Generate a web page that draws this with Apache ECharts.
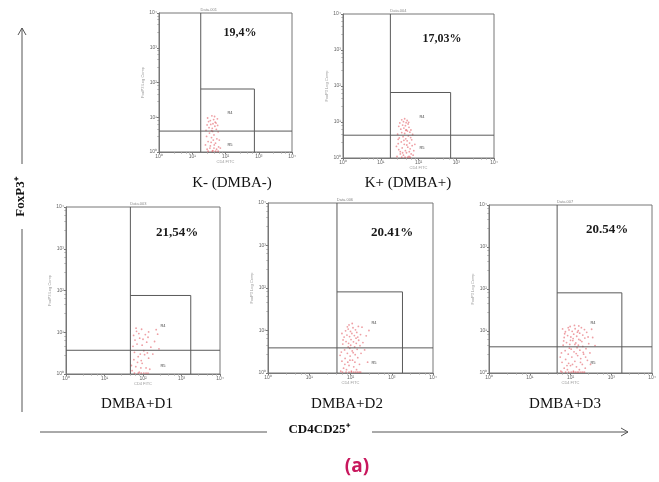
<!DOCTYPE html>
<html>
<head>
<meta charset="utf-8">
<script src="https://cdn.jsdelivr.net/npm/echarts@6/dist/echarts.min.js"></script>
<style>html,body{margin:0;padding:0;background:#fff}#c{width:659px;height:482px}</style>
</head>
<body>
<div id="c"></div>
<script>
// ---- data ----
var panelNames = ['K- (DMBA-)', 'K+ (DMBA+)', 'DMBA+D1', 'DMBA+D2', 'DMBA+D3'];
var percentLabels = ['19,4%', '17,03%', '21,54%', '20.41%', '20.54%'];
var dataTitles = ['Data.001', 'Data.004', 'Data.003', 'Data.006', 'Data.007'];
var tickLabels = ['10\u2070', '10\u00b9', '10\u00b2', '10\u00b3', '10\u2074'];
var gateX = [18, 18, 47, 47, 47];
var quadY = [4.0, 4.3, 3.7, 3.9, 4.2];
var gateTop = [65, 66, 76, 81, 81];
var gateRight = [740, 710, 1740, 1820, 1820];

var points1 = [[28,1.2],[35,1.5],[42,1.1],[30,2.0],[50,1.8],[38,2.6],[45,3.1],[33,3.5],[55,2.4],[26,4.2],[40,4.8],[48,5.5],[36,6.2],[60,3.8],[31,7.5],[44,8.6],[52,6.8],[29,9.5],[39,11],[57,9.0],[34,1.3],[46,1.6],[62,1.4],[27,2.8],[53,4.5],[41,3.9],[37,1.9],[65,2.2],[32,5.0],[49,7.2],[43,2.2],[58,5.8],[25,1.6],[47,10.5],[35,8.0],[70,1.3],[30,1.05],[40,1.05],[50,1.05],[60,1.05],[45,1.3],[38,4.1],[54,1.2],[42,6.5],[28,6.0]];
var points2 = [[27,1.1],[33,1.3],[40,1.2],[48,1.4],[56,1.1],[64,1.3],[72,1.2],[30,1.7],[37,1.9],[45,1.6],[52,2.0],[60,1.8],[68,2.2],[29,2.5],[35,2.8],[42,2.4],[50,3.0],[58,2.6],[66,3.2],[31,3.6],[39,3.9],[46,3.4],[54,4.1],[62,3.7],[28,4.6],[36,5.1],[43,4.8],[51,5.6],[59,5.2],[34,6.3],[41,6.8],[48,6.0],[56,7.1],[30,7.6],[38,8.2],[45,7.9],[53,8.8],[32,9.4],[40,10.2],[47,9.6],[36,11.5],[43,12.3],[50,11.0],[26,2.1],[75,1.6],[80,2.4],[44,1.05],[52,1.05],[36,1.05],[60,1.05],[70,4.5],[63,6.0],[33,1.5],[57,1.5],[49,2.3],[41,3.1],[38,1.4],[46,5.9],[55,9.8],[29,3.3]];
var points3 = [[52,1.2],[65,1.5],[80,1.1],[95,1.8],[120,1.4],[150,1.3],[58,2.2],[75,2.6],[90,2.1],[110,2.9],[140,2.4],[60,3.3],[85,3.0],[105,3.6],[130,3.2],[55,4.6],[70,5.2],[95,4.9],[125,5.8],[160,4.4],[62,6.5],[82,7.2],[100,6.8],[135,7.6],[57,8.4],[78,9.3],[115,8.8],[68,10.5],[92,11.8],[140,10.2],[200,6.0],[240,9.0],[180,3.0],[60,1.05],[75,1.05],[90,1.05],[105,1.05],[120,1.05],[135,1.05],[50,1.6],[88,1.4],[72,1.9],[66,12.5],[220,11.5],[260,4.0]];
var points4 = [[58,1.1],[68,1.3],[80,1.2],[92,1.5],[105,1.1],[120,1.4],[140,1.2],[165,1.6],[62,1.9],[74,2.2],[86,1.8],[98,2.5],[112,2.0],[130,2.7],[150,2.3],[180,2.9],[60,3.1],[72,3.5],[84,2.9],[96,3.8],[110,3.3],[126,4.1],[145,3.6],[170,4.4],[65,4.8],[78,5.5],[90,5.0],[103,6.1],[118,5.4],[136,6.6],[158,5.9],[200,5.2],[70,7.0],[82,7.8],[95,7.2],[108,8.5],[124,7.6],[142,9.0],[175,8.0],[76,9.8],[88,10.8],[100,9.5],[115,11.6],[132,10.4],[155,12.5],[92,13.5],[110,14.6],[240,7.5],[280,10.0],[220,3.5],[260,1.8],[64,1.05],[78,1.05],[92,1.05],[106,1.05],[120,1.05],[134,1.05],[148,1.05],[162,1.05],[176,1.05],[56,2.6],[66,6.0],[73,1.6],[101,4.5],[128,1.8],[88,4.1],[116,3.0],[190,12.0],[84,12.2],[138,5.0],[62,8.5],[97,2.0],[150,7.0]];
var points5 = [[58,1.1],[70,1.3],[84,1.2],[100,1.5],[118,1.1],[140,1.4],[165,1.2],[195,1.6],[230,1.3],[62,1.8],[76,2.1],[90,1.7],[108,2.4],[128,1.9],[150,2.6],[178,2.2],[210,2.8],[260,2.0],[60,3.0],[74,3.4],[88,2.8],[104,3.7],[122,3.2],[145,4.0],[170,3.5],[200,4.3],[240,3.8],[300,3.0],[66,4.6],[80,5.3],[96,4.8],[114,5.9],[135,5.2],[160,6.3],[190,5.6],[225,6.8],[280,5.0],[70,7.0],[85,7.8],[102,7.2],[120,8.4],[142,7.5],[168,8.9],[200,8.0],[250,9.3],[75,9.6],[92,10.6],[110,9.8],[130,11.3],[155,10.2],[185,12.0],[220,10.8],[98,12.8],[125,13.6],[160,13.2],[350,7.0],[400,4.5],[330,11.0],[62,1.05],[76,1.05],[90,1.05],[104,1.05],[118,1.05],[132,1.05],[146,1.05],[160,1.05],[180,1.05],[200,1.05],[220,1.05],[56,2.4],[68,5.8],[82,1.5],[94,3.9],[112,1.6],[138,2.9],[156,4.6],[176,1.8],[205,3.1],[72,8.6],[116,6.6],[148,9.4],[175,6.0],[235,2.4],[270,7.2],[88,12.0],[64,11.2],[310,1.6],[128,4.8],[100,6.0]];
var allPoints = [points1, points2, points3, points4, points5];

// ---- layout (pixels) ----
var boxes = [
  {l:159, t:13, w:133, h:139},
  {l:343, t:14, w:151, h:144},
  {l:66,  t:207, w:154, h:167},
  {l:268, t:203, w:165, h:170},
  {l:489, t:205, w:163, h:168}
];
var pctPos = [[240,33],[442,39],[177,233],[392,233],[607,230]];
var namePos = [[232,183],[408,183],[137,404],[347,404],[565,404]];

var chart = echarts.init(document.getElementById('c'), null, {renderer:'canvas'});
var grids = [], xAxes = [], yAxes = [], series = [], graphics = [];
var axisColor = '#777', gateColor = '#5a5a5a';

function tickFmt(v){ var k = Math.round(Math.log(v)/Math.LN10); return tickLabels[k] || ''; }

boxes.forEach(function(b, i){
  grids.push({left:b.l, top:b.t, width:b.w, height:b.h, show:true, borderColor:axisColor, borderWidth:1, backgroundColor:'transparent'});
  var ax = {
    type:'log', logBase:10, min:1, max:10000, gridIndex:i,
    axisLine:{show:true, lineStyle:{color:axisColor, width:1}},
    axisTick:{show:true, length:2, lineStyle:{color:axisColor}},
    minorTick:{show:true, splitNumber:5, length:1.5, lineStyle:{color:'#999'}},
    splitLine:{show:false},
    axisLabel:{fontSize:5, color:'#666', margin:2, formatter:tickFmt}
  };
  xAxes.push(Object.assign({}, ax, {name:'CD4 FITC', nameLocation:'middle', nameGap:7, nameTextStyle:{fontSize:4, color:'#999'}}));
  yAxes.push(Object.assign({}, ax, {name:'FoxP3 Log Comp', nameLocation:'middle', nameGap:9, nameTextStyle:{fontSize:4, color:'#999'}}));

  var ls = {color:gateColor, width:1};
  series.push({type:'line', xAxisIndex:i, yAxisIndex:i, data:[[gateX[i],1],[gateX[i],10000]], symbol:'none', lineStyle:ls, silent:true, animation:false, z:3});
  series.push({type:'line', xAxisIndex:i, yAxisIndex:i, data:[[1,quadY[i]],[10000,quadY[i]]], symbol:'none', lineStyle:ls, silent:true, animation:false, z:3});
  series.push({type:'line', xAxisIndex:i, yAxisIndex:i, data:[[gateX[i],gateTop[i]],[gateRight[i],gateTop[i]],[gateRight[i],1]], symbol:'none', lineStyle:ls, silent:true, animation:false, z:3});
  series.push({type:'scatter', xAxisIndex:i, yAxisIndex:i, data:allPoints[i], symbol:'circle', symbolSize:1.8,
    itemStyle:{color:'rgba(222,70,80,0.65)'}, silent:true, animation:false, z:2});

  graphics.push({type:'text', x:pctPos[i][0], y:pctPos[i][1], style:{text:percentLabels[i], fill:'#1a1a1a',
    font:'bold ' + (i<2?12:13) + 'px "Liberation Serif", serif', align:'center', verticalAlign:'middle'}});
  graphics.push({type:'text', x:namePos[i][0], y:namePos[i][1], style:{text:panelNames[i], fill:'#111',
    font:'15px "Liberation Serif", serif', align:'center', verticalAlign:'middle'}});
  var gx = b.l + b.w * Math.log(gateX[i])/Math.log(10000);
  graphics.push({type:'text', x:gx + 8, y:b.t - 3, style:{text:dataTitles[i], fill:'#888', font:'4px sans-serif', align:'center', verticalAlign:'middle'}});
});

var rLabels = [[[230,113],[230,145]],[[422,117],[422,148]],[[163,326],[163,366]],[[374,323],[374,363]],[[593,323],[593,363]]];
rLabels.forEach(function(p){
  graphics.push({type:'text', x:p[0][0], y:p[0][1], style:{text:'R4', fill:'#444', font:'4px sans-serif', align:'center', verticalAlign:'middle'}});
  graphics.push({type:'text', x:p[1][0], y:p[1][1], style:{text:'R5', fill:'#444', font:'4px sans-serif', align:'center', verticalAlign:'middle'}});
});

var arrowStyle = {stroke:'#555', lineWidth:1, fill:null};
graphics.push({type:'line', shape:{x1:22, y1:28, x2:22, y2:164}, style:arrowStyle});
graphics.push({type:'line', shape:{x1:22, y1:229, x2:22, y2:412}, style:arrowStyle});
graphics.push({type:'polyline', shape:{points:[[18,35],[22,28],[26,35]]}, style:arrowStyle});
graphics.push({type:'text', x:21, y:197, rotation:Math.PI/2, style:{text:'FoxP3\u207a', fill:'#111',
  font:'bold 13px "Liberation Serif", serif', align:'center', verticalAlign:'middle'}});

graphics.push({type:'line', shape:{x1:40, y1:432, x2:267, y2:432}, style:arrowStyle});
graphics.push({type:'line', shape:{x1:372, y1:432, x2:628, y2:432}, style:arrowStyle});
graphics.push({type:'polyline', shape:{points:[[621,428],[628,432],[621,436]]}, style:arrowStyle});
graphics.push({type:'text', x:319, y:430, style:{text:'CD4CD25\u207a', fill:'#111',
  font:'bold 13px "Liberation Serif", serif', align:'center', verticalAlign:'middle'}});

graphics.push({type:'text', x:357, y:467, style:{text:'(a)', fill:'#c8175d',
  font:'bold 19px "Open Sans", sans-serif', align:'center', verticalAlign:'middle'}});

chart.setOption({
  animation:false,
  backgroundColor:'#ffffff',
  grid:grids, xAxis:xAxes, yAxis:yAxes, series:series, graphic:graphics
});
</script>
</body>
</html>
